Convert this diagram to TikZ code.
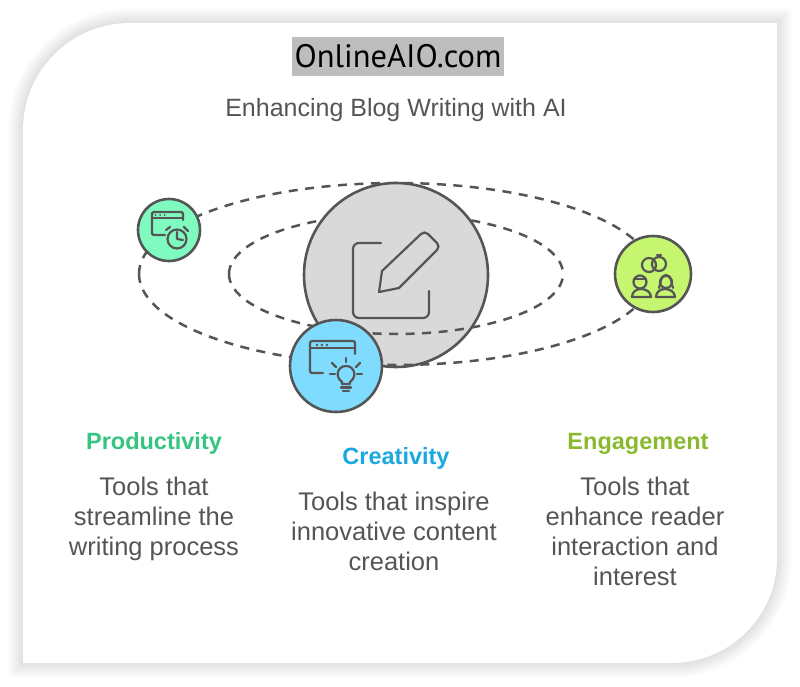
\documentclass[tikz,border=0pt]{standalone}
\usepackage{fontspec}
\setmainfont{Liberation Sans}
\newfontfamily\logofont{PT Sans}
\usetikzlibrary{positioning}
\definecolor{inkgray}{HTML}{555555}
\definecolor{hubgray}{HTML}{D9D9D9}
\definecolor{prodfill}{HTML}{80FBC0}
\definecolor{creafill}{HTML}{80DCFF}
\definecolor{engafill}{HTML}{C6F56F}
\definecolor{prodtext}{HTML}{35C580}
\definecolor{creatext}{HTML}{1BA8E0}
\definecolor{engatext}{HTML}{8AB92F}
\tikzstyle{vertex}=[draw=inkgray,circle,line width=2.6pt,inner sep=0pt]
\tikzstyle{orbit}=[draw=inkgray,line width=2.5pt,dash pattern=on 9pt off 7.5pt]
\tikzstyle{glyph}=[draw=inkgray,line width=2.2pt,line cap=round,line join=round]
\tikzstyle{heading}=[font=\fontsize{23.5}{30}\selectfont\bfseries,inner sep=0pt]
\tikzstyle{blurb}=[font=\fontsize{25.5}{30}\selectfont,text=inkgray,align=center,inner sep=0pt]
\newcommand{\cardpath}{(23,130) arc[start angle=180,end angle=270,radius=107] -- (777,23) -- (777,558) arc[start angle=0,end angle=90,radius=105] -- (23,663) -- cycle}

\begin{document}
\begin{tikzpicture}[x=1pt,y=-1pt]
\useasboundingbox (0,0) rectangle (800,687);
\fill[white] (0,0) rectangle (800,687);
\foreach \w in {2,4,...,30}
  \draw[black,opacity=0.009,line width=\w pt] \cardpath;
\fill[white] \cardpath;

\node [fill=black!26,minimum width=212pt,minimum height=39pt,inner sep=0pt,font=\logofont\fontsize{32.5}{34}\selectfont] (logo) at (398,56.5) {OnlineAIO.com};
\node [font=\fontsize{25}{30}\selectfont,text=inkgray,inner sep=0pt] (title) at (396,110.5) {Enhancing Blog Writing with AI};

% orbits, back halves first
\coordinate (mid) at (396,274);
\draw[orbit] (mid) ++(-257,0) arc[start angle=180,end angle=360,x radius=257,y radius=91];
\draw[orbit] (mid) ++(-167,0) arc[start angle=180,end angle=360,x radius=167,y radius=60];
\node [vertex,fill=hubgray,minimum size=184pt] (hub) at (396,275) {};
\draw[orbit] (mid) ++(-257,0) arc[start angle=180,end angle=0,x radius=257,y radius=91];
\draw[orbit] (mid) ++(-167,0) arc[start angle=180,end angle=0,x radius=167,y radius=60];

\node [vertex,fill=prodfill,minimum size=62pt] (prod) at (169,230) {};
\node [vertex,fill=creafill,minimum size=92pt] (crea) at (336,366) {};
\node [vertex,fill=engafill,minimum size=76pt] (enga) at (653,274) {};

% pencil
\draw[glyph,rounded corners=6pt] (381,243) -- (353,243) -- (353,318) -- (429,318) -- (429,291);
\draw[glyph] (379,292) -- (382,271) -- (421,234) .. controls (423,232) and (426,232) .. (428,234) -- (437,243) .. controls (439,245) and (439,248) .. (437,250) -- (399,288) -- cycle;

% clock window
\draw[glyph,rounded corners=1.5pt] (183,220) -- (183,212) -- (152,212) -- (152,235) -- (165,235);
\draw[glyph] (152,218) -- (183,218);
\foreach \x in {155.5,160,164.5}
  \fill[inkgray] (\x,215) circle (1pt);
\draw[glyph] (177,239) circle (9.5);
\draw[glyph] (177,232) -- (177,239) -- (183,240);
\draw[glyph] (166,230) -- (170,227);
\draw[glyph] (184,227) -- (188,231);

% bulb window
\draw[glyph,rounded corners=2pt] (355,354) -- (355,341) -- (310,341) -- (310,373) -- (323,373);
\draw[glyph] (310,348) -- (355,348);
\foreach \x in {317,322,327}
  \fill[inkgray] (\x,345) circle (1.4pt);
\draw[glyph] (342,382) .. controls (334,376) and (338,366) .. (346,366) .. controls (354,366) and (358,376) .. (350,382) -- (350,384) -- (342,384) -- cycle;
\draw[glyph] (341,387.5) -- (351,387.5);
\draw[glyph] (343,391) -- (349,391);
\draw[glyph] (346,358) -- (346,362);
\draw[glyph] (332,363) -- (336,367);
\draw[glyph] (360,363) -- (356,367);
\draw[glyph] (330,374) -- (335,374);
\draw[glyph] (357,374) -- (362,374);

% rings and people
\draw[glyph] (649,265) circle (7);
\draw[glyph] (659,264) circle (7);
\draw[glyph] (657,255) -- (661,255);
\draw[glyph] (640,282) circle (6.5);
\draw[glyph] (634,279) -- (646,279);
\draw[glyph] (632,297) .. controls (632,292) and (636,289) .. (641,289) .. controls (646,289) and (651,292) .. (651,297) -- cycle;
\draw[glyph] (666,282) circle (6);
\draw[glyph] (659,288) .. controls (661,284) and (660,275) .. (666,275) .. controls (672,275) and (671,284) .. (673,288);
\draw[glyph] (656,297) .. controls (656,292) and (660,289) .. (665,289) .. controls (670,289) and (675,292) .. (675,297) -- cycle;

\node [heading,text=prodtext] (prodhead) at (154,443.5) {Productivity};
\node [heading,text=creatext] (creahead) at (396,458.5) {Creativity};
\node [heading,text=engatext] (engahead) at (638,443.5) {Engagement};
\node [blurb,below=33pt of prodhead.center,anchor=north] (prodblurb) {Tools that\\streamline the\\writing process};
\node [blurb,below=33pt of creahead.center,anchor=north,xshift=-2pt] (creablurb) {Tools that inspire\\innovative content\\creation};
\node [blurb,below=33pt of engahead.center,anchor=north,xshift=-3pt] (engablurb) {Tools that\\enhance reader\\interaction and\\interest};
\end{tikzpicture}
\end{document}
